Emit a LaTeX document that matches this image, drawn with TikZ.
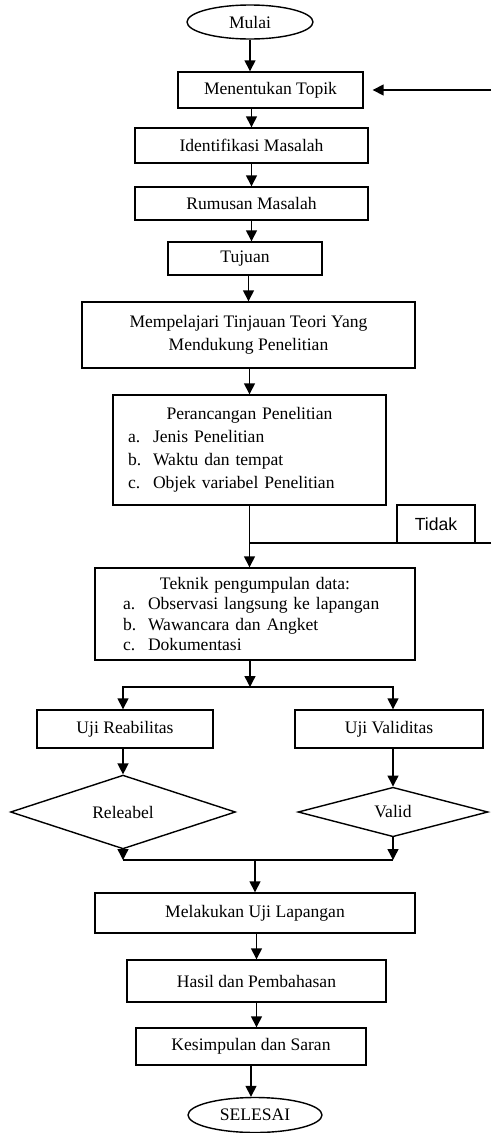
\documentclass[tikz,border=0pt]{standalone}
\usepackage{fontspec}
\setmainfont{Liberation Serif}
\newfontfamily\tidakfont{Liberation Sans}
\usetikzlibrary{shapes.geometric,arrows.meta}
\begin{document}
\begin{tikzpicture}[x=0.02cm, y=-0.02cm, line width=0.8pt,
  box/.style={draw, rectangle, inner sep=0pt, font=\fontsize{10}{12}\selectfont},
  ends/.style={draw, ellipse, inner sep=0pt, font=\fontsize{10}{12}\selectfont},
  cond/.style={draw, diamond, inner sep=0pt, minimum height=0.92cm, font=\fontsize{10}{12}\selectfont},
  arr/.style={-{Triangle[length=0.22cm,width=0.22cm]}}]
\useasboundingbox (0,0) rectangle (491,1133);
\node[ends, minimum width=2.52cm, minimum height=0.68cm] (mulai) at (250,22){Mulai};
\node[box, minimum width=3.7cm, minimum height=0.72cm] (topik) at (270.5,90){Menentukan Topik};
\node[box, minimum width=4.66cm, minimum height=0.7cm] (identifikasi) at (251.5,145.5){Identifikasi Masalah};
\node[box, minimum width=4.66cm, minimum height=0.66cm] (rumusan) at (251.5,203.5){Rumusan Masalah};
\node[box, minimum width=3.08cm, minimum height=0.66cm] (tujuan) at (245,258.5){Tujuan};
\node[box, minimum width=6.66cm, minimum height=1.32cm, align=center] (teori) at (248.5,335){Mempelajari Tinjauan Teori Yang\\[1pt]Mendukung Penelitian};
\node[box, minimum width=5.46cm, minimum height=2.2cm, inner xsep=0.3cm, text width=4.86cm, font=\fontsize{10}{13}\selectfont] (rancang) at (249.5,450){{\centering Perancangan Penelitian\par}\raggedright
  \makebox[0.5cm][l]{a.}Jenis Penelitian\par
  \makebox[0.5cm][l]{b.}Waktu dan tempat\par
  \makebox[0.5cm][l]{c.}Objek variabel Penelitian\par};
\node[box, minimum width=1.56cm, minimum height=0.76cm, font=\tidakfont\fontsize{10}{12}\selectfont] (tidak) at (436,524){Tidak};
\coordinate (balik) at (491,543);
\node[box, minimum width=6.4cm, minimum height=1.84cm, inner xsep=0.56cm, text width=5.28cm, font=\fontsize{10}{11.5}\selectfont] (teknik) at (255,614){{\centering Teknik pengumpulan data:\par}\raggedright
  \makebox[0.5cm][l]{a.}Observasi langsung ke lapangan\par
  \makebox[0.5cm][l]{b.}Wawancara dan Angket\par
  \makebox[0.5cm][l]{c.}Dokumentasi\par};
\coordinate (cabang) at (250,687);
\node[box, minimum width=3.52cm, minimum height=0.76cm] (ujireab) at (125,729){Uji Reabilitas};
\node[box, minimum width=3.76cm, minimum height=0.76cm] (ujivalid) at (389,729){Uji Validitas};
\node[cond, minimum width=4.5cm] (reliabel) at (123,812){Releabel};
\node[cond, minimum width=3.8cm] (valid) at (393,812){Valid};
\coordinate (gabung) at (255,860);
\node[box, minimum width=6.4cm, minimum height=0.8cm] (lapangan) at (255,913){Melakukan Uji Lapangan};
\node[box, minimum width=5.18cm, minimum height=0.84cm] (hasil) at (256.5,981){Hasil dan Pembahasan};
\node[box, minimum width=4.6cm, minimum height=0.74cm] (kesimpulan) at (251,1046.5){Kesimpulan dan Saran};
\node[ends, minimum width=2.68cm, minimum height=0.7cm] (selesai) at (255,1115){SELESAI};
\coordinate (ulang) at (491,90);
\draw[arr](mulai) -- (mulai |- topik.north);
\draw[arr](ulang) -- ([xshift=0.18cm]topik.east);
\draw[arr](identifikasi |- topik.south) -- (identifikasi.north);
\draw[arr](identifikasi) -- (rumusan);
\draw[arr](rumusan.south) -- (rumusan.south |- tujuan.north);
\draw[arr](teori |- tujuan.south) -- (teori.north);
\draw[arr](rancang |- teori.south) -- (rancang.north);
\draw[arr](rancang.south) -- (rancang.south |- teknik.north);
\draw[](balik) -- (balik -| rancang.south);
\draw[arr](teknik.south -| cabang) -- (cabang);
\draw[arr](cabang) -| (reliabel |- ujireab.north);
\draw[arr](cabang) -| (valid |- ujivalid.north);
\draw[arr](reliabel |- ujireab.south) -- (reliabel.north);
\draw[arr](valid |- ujivalid.south) -- (valid.north);
\draw[arr](reliabel.south) -- (reliabel |- gabung);
\draw[arr](valid.south) -- (valid |- gabung);
\draw[](reliabel |- gabung) -- (valid |- gabung);
\draw[arr](gabung) -- (gabung |- lapangan.north);
\draw[arr](lapangan.south -| hasil) -- (hasil.north);
\draw[arr](hasil.south) -- (hasil.south |- kesimpulan.north);
\draw[arr](kesimpulan.south) -- (kesimpulan.south |- selesai.north);
\end{tikzpicture}
\end{document}
